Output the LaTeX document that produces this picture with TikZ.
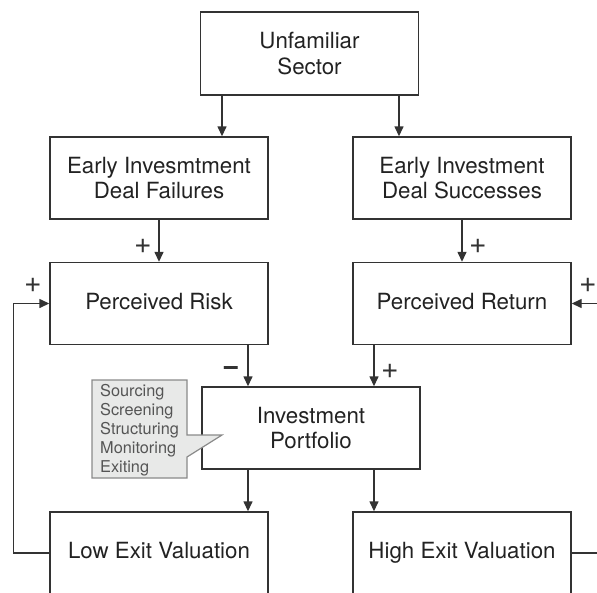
\documentclass[tikz,border=0pt]{standalone}
\usepackage{fontspec}
\setmainfont{TeX Gyre Heros}
\usetikzlibrary{arrows.meta}
\definecolor{ln}{HTML}{333333}
\definecolor{txt}{HTML}{222222}
\definecolor{cfill}{HTML}{E8E9E8}
\definecolor{cline}{HTML}{8A8A8A}
\definecolor{ctext}{HTML}{555555}
\begin{document}
\begin{tikzpicture}[x=1pt,y=-1pt,
  box/.style={draw=ln,line width=1.4pt,minimum width=218pt,minimum height=82pt,
    align=center,font=\fontsize{22.3}{25.5}\selectfont,text=txt,inner sep=0pt},
  arr/.style={draw=ln,line width=1.4pt,-{Triangle[length=10pt,width=9pt]}},
  conn/.style={draw=ln,line width=1.4pt},
  sign/.style={font=\fontsize{30}{30}\selectfont,text=ln,inner sep=0pt},
  callbox/.style={draw=cline,fill=cfill,line width=1.2pt},
  calltext/.style={font=\fontsize{16.3}{18.9}\selectfont,text=ctext,align=left,inner sep=0pt}]
\useasboundingbox (0,0) rectangle (597,592);
% boxes
\node[box,minimum height=83pt] (unf) at (309.5,53.5) {Unfamiliar\\Sector};
\node[box] (fail) at (159,178) {Early Invesmtment\\Deal Failures};
\node[box] (succ) at (462,178) {Early Investment\\Deal Successes};
\node[box] (risk) at (159,303.5) {Perceived Risk\vphantom{g}};
\node[box] (ret) at (462,303.5) {Perceived Return\vphantom{g}};
\node[box] (port) at (311,428) {Investment\\Portfolio};
\node[box] (low) at (159,553) {Low Exit Valuation\vphantom{g}};
\node[box] (high) at (462,553) {High Exit Valuation};
% arrows
\draw[arr] (unf.south -| 222,0) -- (fail.north -| 222,0);
\draw[arr] (unf.south -| 399,0) -- (succ.north -| 399,0);
\draw[arr] (fail.south) -- (risk.north);
\draw[arr] (succ.south) -- (ret.north);
\draw[arr] (risk.south -| 248,0) -- (port.north -| 248,0);
\draw[arr] (ret.south -| 374,0) -- (port.north -| 374,0);
\draw[arr] (port.south -| 248,0) -- (low.north -| 248,0);
\draw[arr] (port.south -| 374,0) -- (high.north -| 374,0);
% feedback loops
\draw[arr] (low.west) -- ++(-36,0) |- (risk.west);
\coordinate (rout) at (600,553);
\coordinate (rin) at (600,303.5);
\draw[conn] (high.east) -- (rout);
\draw[arr] (rin) -- (ret.east);
% signs
\node[sign] (s1) at (143,246) {+};
\node[sign] (s2) at (478,246) {+};
\node[sign] (s3) at (390,371) {+};
\node[sign,font=\fontsize{30}{30}\bfseries] (s4) at (231,371) {−};
\node[sign] (s5) at (33,285) {+};
\node[sign] (s6) at (588,285) {+};
% callout
\draw[callbox] (92,380) -- (187,380) -- (187,435) -- (222,435) -- (187,457) -- (187,478) -- (92,478) -- cycle;
\node[calltext,anchor=west] (ct) at (100,430) {Sourcing\\Screening\\Structuring\\Monitoring\\Exiting};
\end{tikzpicture}
\end{document}
